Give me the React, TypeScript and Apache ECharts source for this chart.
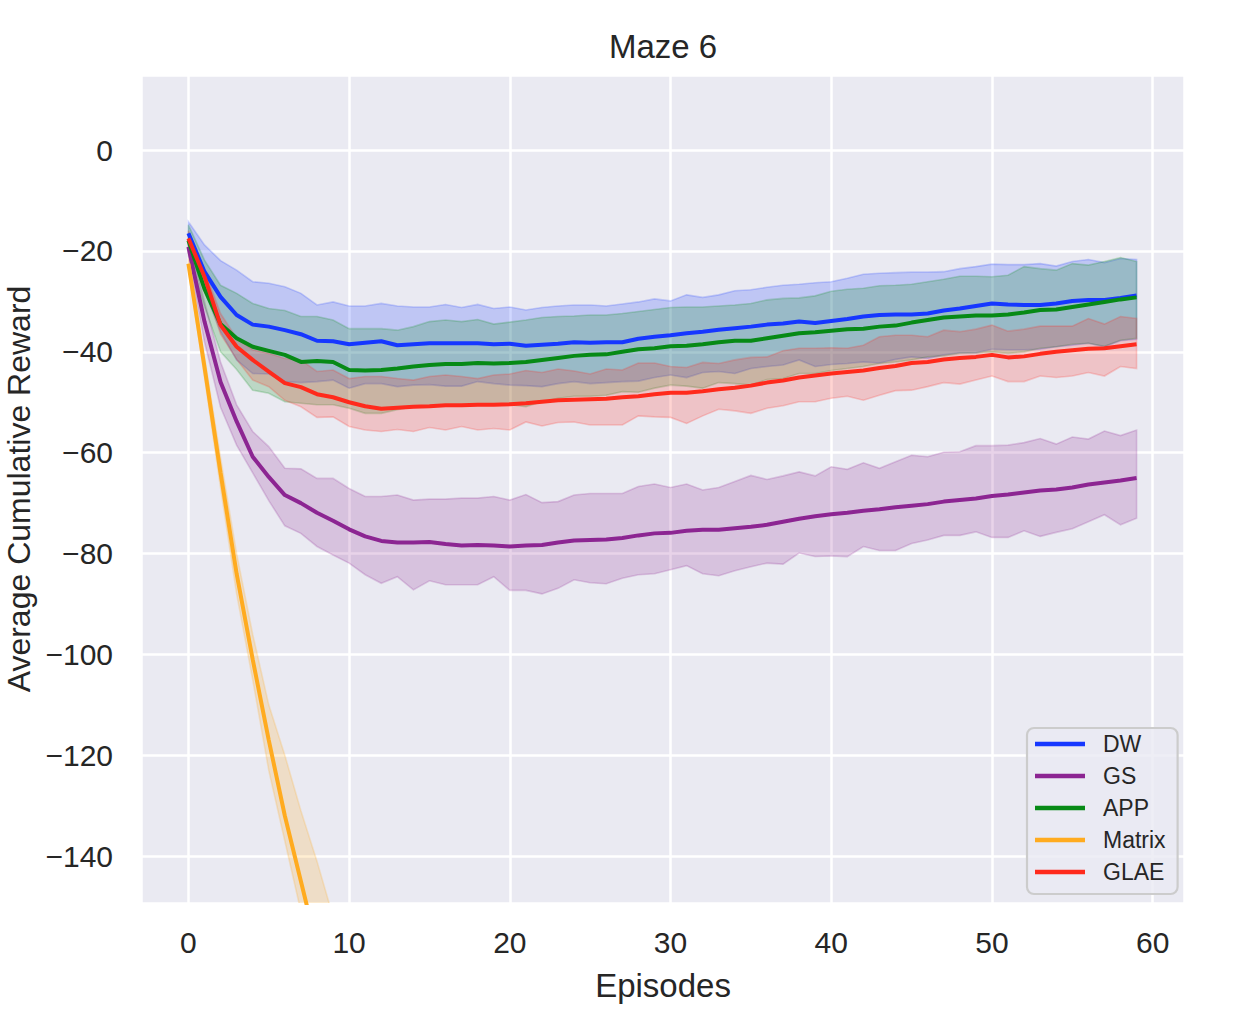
import React, { useEffect, useRef } from "react";
import * as echarts from "echarts";

// ---- Data ----
const episodes: number[] = Array.from({ length: 60 }, (_, i) => i);
const matrixEpisodes: number[] = [0, 1, 2, 3, 4, 5, 6, 7, 8, 9];

const xTicks = [0, 10, 20, 30, 40, 50, 60];
const yTicks = [0, -20, -40, -60, -80, -100, -120, -140];

const dwMean = [-16.5, -24.1, -29.1, -32.7, -34.6, -35.0, -35.7, -36.5, -37.8, -37.9, -38.5, -38.2, -37.9, -38.7, -38.5, -38.3, -38.3, -38.3, -38.3, -38.5, -38.4, -38.8, -38.6, -38.4, -38.1, -38.2, -38.1, -38.1, -37.4, -37.0, -36.7, -36.3, -36.0, -35.6, -35.3, -35.0, -34.6, -34.4, -34.0, -34.3, -33.9, -33.5, -33.0, -32.7, -32.6, -32.6, -32.4, -31.8, -31.4, -30.9, -30.4, -30.6, -30.7, -30.7, -30.4, -29.9, -29.7, -29.7, -29.3, -28.8];
const dwUpper = [-14.2, -18.8, -21.9, -23.8, -26.1, -26.4, -27.1, -28.4, -30.7, -30.1, -30.9, -30.9, -30.4, -30.9, -31.1, -31.1, -30.6, -31.2, -30.6, -31.4, -31.1, -31.7, -31.2, -30.9, -30.7, -30.7, -30.9, -30.5, -30.1, -29.5, -29.9, -28.7, -29.2, -28.7, -27.9, -27.7, -27.2, -26.8, -26.6, -26.3, -26.1, -25.4, -24.6, -24.4, -24.3, -24.2, -24.2, -24.1, -23.5, -23.1, -22.6, -22.7, -22.7, -22.5, -23.0, -22.1, -21.7, -22.3, -21.5, -21.7];
const dwLower = [-19.0, -28.0, -36.0, -41.6, -44.3, -44.4, -45.9, -46.1, -45.9, -45.6, -47.2, -46.3, -46.3, -46.9, -46.6, -46.5, -46.8, -46.8, -45.9, -46.3, -46.6, -46.7, -46.9, -46.3, -45.9, -46.3, -46.1, -45.9, -45.8, -45.1, -44.6, -45.1, -44.1, -43.9, -44.3, -43.3, -42.9, -42.6, -41.6, -42.9, -42.5, -42.3, -42.0, -42.2, -41.5, -41.0, -41.3, -40.6, -40.2, -40.2, -39.5, -39.6, -39.6, -39.5, -39.0, -38.7, -38.3, -39.0, -37.8, -37.5];

const gsMean = [-19.2, -34.0, -46.0, -53.8, -60.8, -64.8, -68.4, -70.0, -71.9, -73.5, -75.2, -76.6, -77.5, -77.8, -77.8, -77.7, -78.1, -78.4, -78.3, -78.4, -78.6, -78.4, -78.3, -77.8, -77.4, -77.3, -77.2, -76.9, -76.4, -76.0, -75.9, -75.5, -75.3, -75.3, -75.0, -74.7, -74.3, -73.7, -73.1, -72.6, -72.2, -71.9, -71.5, -71.2, -70.8, -70.5, -70.2, -69.7, -69.4, -69.1, -68.6, -68.3, -67.9, -67.5, -67.3, -66.9, -66.3, -65.9, -65.5, -65.0];
const gsUpper = [-17.5, -30.0, -42.0, -50.5, -55.8, -58.8, -63.1, -63.2, -65.1, -65.1, -67.1, -68.7, -68.7, -68.4, -69.4, -69.2, -69.2, -69.0, -69.0, -68.7, -69.4, -68.3, -69.9, -69.7, -68.4, -68.1, -68.1, -68.1, -66.7, -66.2, -66.9, -66.2, -67.4, -66.9, -65.7, -64.5, -65.3, -64.6, -63.8, -64.6, -62.8, -63.3, -62.0, -63.1, -61.8, -60.5, -60.8, -59.9, -59.8, -58.6, -58.6, -58.5, -58.0, -57.2, -58.3, -56.9, -57.3, -55.7, -56.6, -55.5];
const gsLower = [-21.0, -38.0, -51.0, -58.5, -64.0, -69.5, -74.5, -76.0, -78.6, -80.3, -81.9, -84.2, -85.9, -84.6, -87.2, -85.4, -86.2, -86.2, -86.2, -84.6, -87.3, -87.3, -88.0, -86.9, -85.2, -85.8, -86.0, -84.9, -84.2, -84.0, -83.2, -82.4, -84.0, -84.4, -83.4, -82.6, -81.9, -82.1, -79.9, -80.6, -80.5, -80.6, -78.6, -79.4, -79.4, -78.0, -77.3, -76.4, -76.4, -75.7, -76.8, -76.8, -75.5, -76.6, -75.8, -75.1, -73.7, -72.3, -74.3, -73.0];

const appMean = [-17.9, -27.5, -34.5, -37.3, -39.0, -39.8, -40.6, -42.0, -41.8, -42.0, -43.6, -43.7, -43.6, -43.3, -42.9, -42.6, -42.4, -42.4, -42.2, -42.3, -42.2, -42.0, -41.6, -41.2, -40.8, -40.6, -40.5, -40.0, -39.5, -39.3, -38.9, -38.8, -38.5, -38.1, -37.8, -37.8, -37.3, -36.8, -36.3, -36.1, -35.8, -35.5, -35.4, -35.0, -34.8, -34.2, -33.7, -33.2, -33.0, -32.8, -32.8, -32.6, -32.2, -31.7, -31.6, -31.1, -30.6, -30.1, -29.6, -29.2];
const appUpper = [-14.8, -21.8, -26.8, -28.4, -30.4, -31.4, -31.8, -33.0, -33.0, -33.7, -35.4, -35.4, -35.4, -35.7, -35.0, -34.0, -33.7, -34.0, -33.6, -34.5, -34.1, -33.7, -33.2, -33.0, -32.9, -32.7, -32.7, -32.4, -32.0, -31.6, -31.2, -31.1, -31.1, -30.9, -30.7, -30.4, -29.7, -29.4, -29.3, -28.9, -28.0, -27.6, -27.4, -26.9, -26.8, -26.6, -26.1, -25.6, -25.0, -25.0, -25.1, -24.8, -23.1, -23.5, -23.8, -22.5, -22.8, -22.1, -21.3, -22.1];
const appLower = [-20.5, -31.0, -40.0, -43.5, -47.6, -48.2, -49.9, -50.2, -50.5, -50.5, -51.2, -52.2, -52.2, -51.5, -50.9, -50.7, -50.7, -50.7, -50.6, -50.6, -50.5, -50.9, -49.9, -49.2, -48.8, -48.8, -48.6, -47.9, -48.0, -47.2, -46.6, -46.8, -47.2, -46.1, -46.3, -46.6, -45.5, -45.3, -44.3, -44.3, -43.7, -43.3, -42.9, -42.3, -42.0, -41.6, -41.0, -40.8, -40.3, -40.2, -40.0, -40.3, -40.0, -39.3, -39.0, -38.5, -38.3, -38.9, -37.7, -37.3];

const matrixMean = [-22.5, -43, -64, -84, -101, -117, -132, -145, -158, -170];
const matrixUpper = [-21.5, -41, -61, -80, -96, -110, -120, -131, -141, -152];
const matrixLower = [-23.5, -45, -67, -88, -105, -123, -137, -151, -166, -180];

const glaeMean = [-17.5, -25.1, -34.7, -39.0, -41.6, -43.9, -46.2, -47.0, -48.4, -49.0, -50.0, -50.8, -51.3, -51.1, -50.9, -50.8, -50.6, -50.6, -50.5, -50.5, -50.4, -50.2, -49.9, -49.6, -49.5, -49.4, -49.3, -49.0, -48.8, -48.4, -48.1, -48.1, -47.8, -47.4, -47.1, -46.7, -46.1, -45.7, -45.1, -44.7, -44.3, -44.0, -43.7, -43.2, -42.8, -42.2, -42.0, -41.5, -41.2, -41.0, -40.6, -41.1, -40.9, -40.4, -40.0, -39.7, -39.4, -39.3, -38.9, -38.5];
const glaeUpper = [-16.0, -23.8, -32.4, -37.3, -39.6, -40.3, -41.3, -41.6, -43.9, -43.6, -45.3, -44.9, -44.9, -45.3, -45.6, -44.9, -44.6, -44.9, -45.3, -44.6, -44.4, -43.7, -44.1, -43.4, -43.8, -44.4, -43.4, -43.6, -42.2, -42.2, -42.9, -43.1, -42.1, -42.3, -41.6, -41.1, -41.0, -39.8, -39.3, -39.3, -39.2, -39.3, -38.7, -37.0, -36.7, -36.7, -37.0, -35.7, -36.0, -35.5, -34.7, -35.9, -35.5, -34.9, -34.9, -34.9, -33.4, -34.5, -33.0, -33.4];
const glaeLower = [-19.0, -27.0, -36.5, -41.5, -45.6, -46.9, -49.6, -50.9, -53.0, -52.9, -54.8, -55.5, -55.8, -55.4, -55.8, -55.0, -55.5, -54.8, -55.5, -55.2, -55.5, -53.9, -54.7, -54.0, -53.9, -54.5, -54.5, -54.5, -52.7, -52.9, -53.0, -54.2, -52.7, -51.4, -51.7, -52.2, -51.2, -50.7, -49.9, -49.9, -49.2, -48.8, -49.6, -48.6, -47.7, -47.6, -46.9, -46.1, -46.4, -45.6, -44.8, -45.9, -45.9, -44.8, -45.1, -44.8, -44.1, -44.8, -42.9, -43.3];

const methods = [
  { name: "DW", color: "#1637ff", rgb: "22,55,255", xs: episodes, mean: dwMean, upper: dwUpper, lower: dwLower },
  { name: "GS", color: "#8c2592", rgb: "140,37,146", xs: episodes, mean: gsMean, upper: gsUpper, lower: gsLower },
  { name: "APP", color: "#078a16", rgb: "7,138,22", xs: episodes, mean: appMean, upper: appUpper, lower: appLower },
  { name: "Matrix", color: "#ffab1f", rgb: "255,171,31", xs: matrixEpisodes, mean: matrixMean, upper: matrixUpper, lower: matrixLower },
  { name: "GLAE", color: "#ff2a1c", rgb: "255,42,28", xs: episodes, mean: glaeMean, upper: glaeUpper, lower: glaeLower },
];

const FONT = "'Liberation Sans', Arial, sans-serif";
const TEXT = "#262626";

const fmtNum = (v: number) => (v < 0 ? "\u2212" + Math.abs(v) : String(v));

function buildSeries() {
  const out: any[] = [];
  methods.forEach((m) => {
    out.push({
      name: m.name,
      type: "line",
      data: m.xs.map((x, i) => [x, m.mean[i]]),
      symbol: "none",
      showSymbol: false,
      clip: true,
      lineStyle: { color: m.color, width: 4 },
      itemStyle: { color: m.color },
      emphasis: { disabled: true },
      z: 3,
    });
    out.push({
      type: "custom",
      silent: true,
      z: 3,
      data: m.xs.map((x, i) => [x, m.lower[i], m.upper[i]]),
      encode: { x: 0, y: [1, 2] },
      renderItem: (params: any, api: any) => {
        if (params.dataIndexInside !== 0) return null;
        const n = m.xs.length;
        const top: number[][] = [];
        const bot: number[][] = [];
        for (let i = 0; i < n; i++) {
          top.push(api.coord([api.value(0, i), api.value(2, i)]));
          bot.push(api.coord([api.value(0, i), api.value(1, i)]));
        }
        const points = top.concat(bot.reverse());
        const cs = params.coordSys;
        return {
          type: "polygon",
          shape: { points },
          style: {
            fill: `rgba(${m.rgb},0.2)`,
            stroke: `rgba(${m.rgb},0.2)`,
            lineWidth: 1.6,
          },
          clipPath: {
            type: "rect",
            shape: { x: cs.x, y: cs.y, width: cs.width, height: cs.height },
          },
        };
      },
    });
  });
  return out;
}

export default function App() {
  const ref = useRef<HTMLDivElement>(null);
  useEffect(() => {
    if (!ref.current) return;
    const chart = echarts.init(ref.current, undefined, { renderer: "svg" });
    chart.setOption({
      animation: false,
      backgroundColor: "#ffffff",
      textStyle: { fontFamily: FONT },
      grid: {
        left: 141,
        right: 66,
        top: 75,
        bottom: 113,
        show: true,
        backgroundColor: "#eaeaf2",
        borderWidth: 0,
        containLabel: false,
      },
      xAxis: {
        type: "value",
        min: -2.95,
        max: 61.95,
        splitNumber: 5,
        minInterval: 10,
        maxInterval: 10,
        axisLine: { show: false },
        axisTick: { show: false },
        splitLine: { show: true, lineStyle: { color: "#ffffff", width: 2.5 } },
        axisLabel: {
          show: true,
          fontSize: 30,
          color: TEXT,
          fontFamily: FONT,
          margin: 24,
          showMinLabel: false,
          showMaxLabel: false,
          formatter: (v: number) => (xTicks.indexOf(v) >= 0 ? fmtNum(v) : ""),
        },
      },
      yAxis: {
        type: "value",
        min: -149.3,
        max: 14.9,
        splitNumber: 8,
        minInterval: 20,
        maxInterval: 20,
        axisLine: { show: false },
        axisTick: { show: false },
        splitLine: { show: true, lineStyle: { color: "#ffffff", width: 2.5 } },
        axisLabel: {
          show: true,
          fontSize: 30,
          color: TEXT,
          fontFamily: FONT,
          margin: 28,
          showMinLabel: false,
          showMaxLabel: false,
          formatter: (v: number) => (yTicks.indexOf(v) >= 0 ? fmtNum(v) : ""),
        },
      },
      legend: {
        data: methods.map((m) => m.name),
        orient: "vertical",
        left: 1027,
        top: 728,
        icon: "rect",
        itemWidth: 50,
        itemHeight: 4.5,
        itemGap: 6,
        padding: [3, 12, 9, 8],
        backgroundColor: "rgba(234,234,242,0.8)",
        borderColor: "#cccccc",
        borderWidth: 2.2,
        borderRadius: 7,
        selectedMode: false,
        textStyle: {
          fontSize: 23,
          lineHeight: 26,
          color: TEXT,
          fontFamily: FONT,
          padding: [0, 0, 0, 13],
        },
      },
      graphic: [
        {
          type: "text",
          x: 663,
          y: 46,
          style: {
            text: "Maze 6",
            fontSize: 33,
            fontFamily: FONT,
            fill: TEXT,
            textAlign: "center",
            textVerticalAlign: "middle",
          },
        },
        {
          type: "text",
          x: 663,
          y: 985,
          style: {
            text: "Episodes",
            fontSize: 33,
            fontFamily: FONT,
            fill: TEXT,
            textAlign: "center",
            textVerticalAlign: "middle",
          },
        },
        {
          type: "text",
          x: 19,
          y: 489,
          rotation: Math.PI / 2,
          style: {
            text: "Average Cumulative Reward",
            fontSize: 32,
            fontFamily: FONT,
            fill: TEXT,
            textAlign: "center",
            textVerticalAlign: "middle",
          },
        },
      ],
      series: buildSeries(),
    });
    return () => chart.dispose();
  }, []);
  return (
    <div
      ref={ref}
      style={{ position: "fixed", left: 0, top: 0, width: 1250, height: 1016 }}
    />
  );
}
